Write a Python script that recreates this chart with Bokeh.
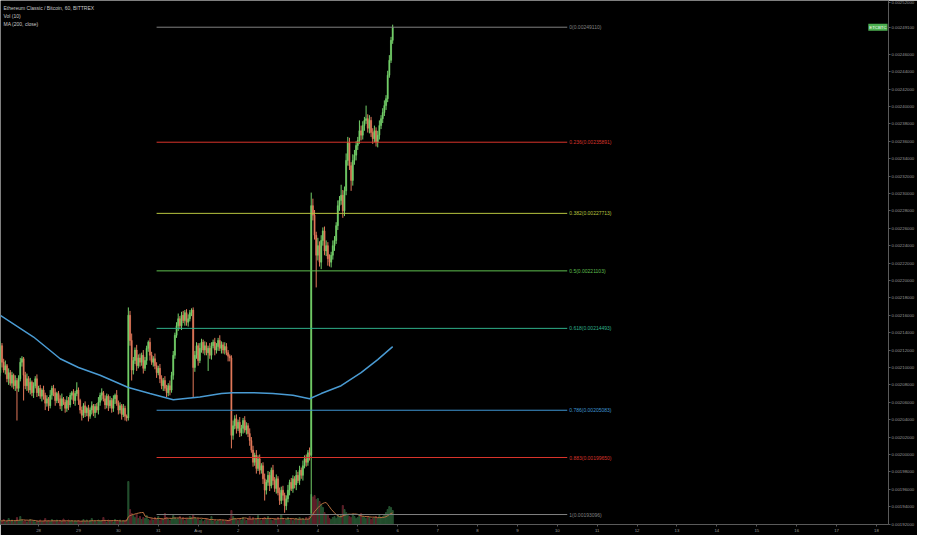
import numpy as np
import pandas as pd
from bokeh.plotting import figure
from bokeh.models import ColumnDataSource, Range1d, FixedTicker, PrintfTickFormatter, Label
from bokeh.embed import file_html
from bokeh.resources import INLINE

# ---------------- data (prices in millionths of BTC) ----------------
first_hour = -23          # first hourly candle, hours from 28 Jul 00:00
first_open_e6 = 2094

close_e6 = (
    [2125, 2106, 2097, 2102, 2087, 2094, 2082, 2091, 2079, 2085, 2076, 2087, 2106, 2110, 2091, 2079,
     2087, 2074, 2083, 2071, 2079, 2087, 2071]
    + [2076, 2067, 2074, 2068, 2059, 2064, 2056, 2068, 2076, 2071, 2062, 2070, 2064, 2056, 2064, 2060,
       2053, 2062, 2057, 2068, 2071, 2062, 2070, 2074]
    + [2062, 2051, 2045, 2056, 2048, 2053, 2044, 2051, 2056, 2048, 2055, 2051, 2060, 2068, 2071, 2064,
       2057, 2067, 2056, 2062, 2053, 2064, 2068, 2059, 2051, 2056, 2046, 2053, 2044, 2042]
    + [2160, 2131, 2097, 2108, 2120, 2102, 2111, 2106, 2114, 2099, 2108, 2122, 2129, 2114, 2106, 2110,
       2102, 2094, 2099, 2087, 2079, 2085, 2076, 2071, 2079, 2074, 2091, 2114, 2137, 2148, 2156, 2148,
       2160, 2154, 2163, 2152, 2156, 2163, 2166]
    + [2100, 2114, 2125, 2108, 2122, 2129, 2120, 2125, 2117, 2122, 2114, 2125, 2129, 2120, 2124, 2131,
       2122, 2126, 2120, 2124, 2117, 2113, 2111]
    + [2022, 2033, 2041, 2030, 2037, 2025, 2030, 2039, 2028, 2033, 2024, 2016, 2005, 1991, 1999, 1984,
       1995, 1982, 1987, 1972, 1959, 1968, 1976, 1964, 1982, 1970, 1961, 1972, 1956, 1947, 1959, 1953,
       1941, 1949, 1959, 1968, 1961, 1972, 1965, 1976, 1970, 1982, 1976, 1987, 1995, 1991, 2002, 1999]
    + [2286, 2275, 2252, 2229, 2240, 2221, 2246, 2257, 2234, 2240, 2225, 2221, 2229, 2240, 2246, 2263,
       2286, 2292, 2298, 2280, 2303, 2338, 2359, 2332, 2315, 2338, 2344, 2355, 2361, 2372, 2367, 2378,
       2384, 2386, 2375, 2384, 2370, 2363, 2372, 2359, 2367, 2378, 2386, 2393, 2401, 2409, 2436, 2453,
       2476, 2491]
)

wick_up_e6 = (
    [5, 3, 4, 6, 2, 5, 3, 4, 2, 6, 3, 4, 5, 3, 2, 4, 6, 3, 5, 2, 4, 3, 5]
    + [3, 4, 2, 5, 3, 4, 2, 6, 3, 4, 5, 2, 3, 4, 6, 2, 3, 5, 4, 3, 2, 4, 3, 9]
    + [3, 2, 4, 3, 5, 2, 4, 3, 5, 2, 3, 4, 6, 3, 5, 2, 4, 3, 2, 5, 3, 4, 2, 6, 3, 4, 2, 5, 3, 2]
    + [9, 5, 8, 4, 3, 6, 4, 5, 3, 6, 4, 3, 2, 5, 4, 3, 6, 4, 3, 5, 4, 3, 5, 4, 3, 6, 4, 5, 3, 4, 6, 3,
       4, 5, 3, 4, 5, 3, 2]
    + [3, 5, 4, 3, 6, 4, 3, 5, 4, 3, 6, 4, 3, 5, 4, 3, 6, 4, 3, 5, 4, 3, 2]
    + [3, 6, 4, 5, 3, 6, 4, 3, 5, 4, 3, 6, 4, 5, 3, 6, 4, 5, 3, 4, 6, 3, 5, 4, 3, 6, 4, 5, 3, 6, 4, 5,
       3, 4, 6, 3, 5, 4, 3, 6, 4, 5, 3, 6, 4, 5, 3, 6]
    + [15, 8, 6, 4, 9, 5, 6, 4, 5, 6, 4, 5, 4, 6, 5, 4, 6, 5, 12, 6, 5, 8, 6, 5, 4, 7, 6, 5, 4, 12, 6, 5,
       4, 15, 5, 6, 4, 5, 6, 4, 5, 6, 4, 5, 6, 4, 5, 6, 4, 3]
)

wick_dn_e6 = (
    [4, 6, 3, 5, 4, 7, 3, 5, 4, 6, 37, 4, 3, 5, 29, 4, 6, 3, 5, 4, 6, 3, 5]
    + [4, 3, 6, 5, 8, 4, 6, 3, 5, 4, 6, 3, 5, 4, 6, 3, 5, 4, 6, 3, 5, 4, 6, 3]
    + [5, 4, 6, 3, 5, 4, 6, 3, 5, 4, 6, 3, 5, 4, 6, 3, 5, 4, 6, 3, 5, 4, 6, 3, 5, 4, 6, 3, 5, 4]
    + [3, 6, 12, 5, 4, 6, 3, 5, 4, 6, 3, 5, 4, 6, 3, 5, 4, 6, 3, 5, 4, 6, 3, 5, 4, 6, 3, 5, 4, 3, 6, 4,
       5, 3, 6, 4, 5, 3, 4]
    + [34, 5, 4, 6, 3, 5, 4, 6, 3, 21, 4, 5, 3, 6, 4, 5, 3, 6, 4, 5, 3, 6, 4]
    + [15, 5, 4, 6, 3, 5, 4, 6, 3, 5, 4, 6, 3, 5, 4, 6, 3, 5, 4, 6, 12, 5, 4, 6, 3, 5, 4, 6, 3, 5, 4, 6,
       8, 5, 4, 6, 3, 5, 4, 6, 3, 5, 4, 6, 3, 5, 4, 6]
    + [67, 6, 5, 37, 6, 5, 8, 6, 5, 6, 8, 5, 6, 5, 6, 4, 5, 6, 5, 8, 6, 5, 6, 5, 12, 6, 5, 6, 5, 4, 6, 5,
       6, 4, 5, 6, 5, 6, 4, 5, 6, 5, 4, 5, 4, 5, 4, 3, 3, 4]
)

volume = (
    [8, 6, 10, 5, 7, 12, 6, 9, 5, 8, 14, 7, 16, 9, 6, 8, 5, 7, 10, 6, 8, 5, 7]
    + [6, 9, 5, 7, 12, 6, 8, 5, 10, 7, 6, 9, 5, 8, 6, 11, 7, 5, 9, 6, 8, 5, 7, 6]
    + [8, 5, 7, 10, 6, 9, 5, 8, 12, 6, 7, 5, 9, 6, 8, 14, 7, 5, 9, 6, 8, 5, 10, 7, 6, 9, 5, 8, 7, 10]
    + [86, 30, 22, 18, 14, 20, 12, 16, 10, 14, 12, 18, 10, 8, 12, 9, 14, 10, 16, 8, 12, 10, 22, 14, 10,
       8, 12, 18, 14, 10, 12, 16, 10, 14, 8, 12, 10, 16, 14]
    + [20, 14, 10, 12, 8, 10, 6, 9, 12, 8, 10, 16, 7, 9, 6, 8, 10, 7, 9, 6, 8, 7, 12]
    + [28, 16, 12, 10, 8, 12, 9, 14, 10, 8, 12, 16, 10, 14, 9, 12, 18, 10, 8, 12, 14, 10, 16, 12, 9, 8,
       12, 10, 14, 9, 20, 12, 8, 10, 14, 9, 12, 8, 10, 12, 9, 14, 10, 12, 8, 14, 10, 16]
    + [60, 55, 58, 50, 52, 46, 40, 34, 24, 20, 18, 12, 10, 14, 16, 12, 18, 14, 20, 38, 30, 24, 18, 16, 14,
       20, 16, 12, 14, 18, 22, 16, 14, 12, 16, 14, 10, 12, 14, 16, 12, 18, 14, 16, 20, 24, 30, 36, 34, 28]
)

ma_hours = [-23, -3, 13, 24, 37, 54, 67, 81, 97, 110, 117, 129, 141, 153, 163, 170, 182, 194, 204, 213]
ma_e6 = [2160, 2135, 2110, 2100, 2091, 2077, 2070, 2063, 2066, 2070, 2071, 2071, 2070, 2068, 2064,
         2070, 2079, 2094, 2109, 2124]

day_labels = ["28", "29", "30", "31", "Aug", "2", "3", "4", "5", "6", "7", "8", "9", "10", "11",
              "12", "13", "14", "15", "16", "17", "18"]

fib_levels = [0, 0.236, 0.382, 0.5, 0.618, 0.786, 0.883, 1]
fib_colors = ["#808080", "#d9342b", "#b7c43f", "#5fbf4f", "#2fb08a", "#3f95d2", "#d9342b", "#808080"]
fib_high = 0.00249110
fib_low = 0.00193096
fib_start_hour = 71
fib_end_hour = 318

legend_lines = ["Ethereum Classic / Bitcoin, 60, BITTREX", "Vol (10)", "MA (200, close)"]

UP, DOWN = "#74d06a", "#e2785a"
VUP, VDOWN = "#24502f", "#5e2029"

# ---------------- layout constants ----------------
FRAME_W, FRAME_H = 888, 524
PX_PER_HOUR = 1.6625
PX_PER_E6 = 0.87
X0 = -22.9
Y1 = 0.0025218

# ---------------- derived ----------------
n = len(close_e6)
hours = np.arange(first_hour, first_hour + n)
c = np.array(close_e6) * 1e-6
o = np.array([first_open_e6] + close_e6[:-1]) * 1e-6
top = np.maximum(o, c)
bot = np.minimum(o, c)
hi = top + np.array(wick_up_e6) * 1e-6
lo = bot - np.array(wick_dn_e6) * 1e-6
up = c >= o
vma = pd.Series(volume, dtype=float).rolling(10, min_periods=1).mean().values

src = ColumnDataSource(dict(h=hours, top=top, bot=bot, hi=hi, lo=lo,
                            color=np.where(up, UP, DOWN),
                            vol=volume, vcolor=np.where(up, VUP, VDOWN), vma=vma))

p = figure(frame_width=FRAME_W, frame_height=FRAME_H, output_backend="svg", toolbar_location=None,
           x_range=Range1d(X0, X0 + FRAME_W / PX_PER_HOUR),
           y_range=Range1d(Y1 - FRAME_H / PX_PER_E6 * 1e-6, Y1),
           y_axis_location="right",
           background_fill_color="#000000", border_fill_color="#000000",
           outline_line_color=None, min_border_left=0, min_border_top=0,
           min_border_right=0, min_border_bottom=0)
p.grid.visible = False

# volume
p.extra_y_ranges = {"vol": Range1d(0, FRAME_H * 2)}
p.vbar(x="h", width=0.65, top="vol", bottom=0, fill_color="vcolor", line_color="vcolor",
       y_range_name="vol", source=src)
p.line("h", "vma", y_range_name="vol", source=src, line_color="#b8703f", line_width=1)

# candles
p.segment(x0="h", y0="hi", x1="h", y1="lo", line_color="color", line_width=1, source=src)
p.vbar(x="h", width=0.7, top="top", bottom="bot", fill_color="color", line_color="color",
       line_width=0.5, source=src)

# MA 200
p.line(ma_hours, np.array(ma_e6) * 1e-6, line_color="#4a9bd3", line_width=1.5)

# fibonacci retracement
fib_prices = [fib_high - lv * (fib_high - fib_low) for lv in fib_levels]
fsrc = ColumnDataSource(dict(x0=[fib_start_hour] * len(fib_levels), x1=[fib_end_hour] * len(fib_levels),
                             y=fib_prices, color=fib_colors))
p.segment(x0="x0", y0="y", x1="x1", y1="y", line_color="color", line_width=1, source=fsrc)
for lv, pr, col in zip(fib_levels, fib_prices, fib_colors):
    p.add_layout(Label(x=fib_end_hour, y=pr, text=f"{lv:g}({pr:.8f})", text_color=col,
                       text_font_size="5px", text_font="Liberation Sans",
                       text_baseline="alphabetic", x_offset=2))

# legend text (top left)
for i, t in enumerate(legend_lines):
    p.add_layout(Label(x=3, y=FRAME_H - 4 - 8 * i, x_units="screen", y_units="screen", text=t,
                       text_color="#c8c8c8", text_font_size="5px", text_font="Liberation Sans",
                       text_baseline="top"))

# axes
last = c[-1]
price_ticks = [round(0.0019 + 0.00002 * i, 8) for i in range(32)]
price_ticks = [t for t in price_ticks if abs(t - last) > 0.000012] + [last]
p.yaxis.ticker = FixedTicker(ticks=price_ticks)
p.yaxis.formatter = PrintfTickFormatter(format="%.8f")
p.xaxis.ticker = FixedTicker(ticks=[24 * i for i in range(len(day_labels))])
p.xaxis.major_label_overrides = {24 * i: t for i, t in enumerate(day_labels)}
for ax in (p.xaxis[0], p.yaxis[0]):
    ax.axis_line_color = "#5a5a5a"
    ax.major_tick_line_color = "#5a5a5a"
    ax.minor_tick_line_color = None
    ax.major_tick_in = 0
    ax.major_tick_out = 2
    ax.major_label_text_color = "#9a9a9a"
    ax.major_label_text_font_size = "4.3px"
    ax.major_label_text_font = "Liberation Sans"
    ax.major_label_standoff = 1

# last price tag inside the chart
p.add_layout(Label(x=X0 + FRAME_W / PX_PER_HOUR, y=last, text="ETCBTC", text_color="#ffffff",
                   text_font_size="4.3px", text_font="Liberation Sans", text_baseline="middle",
                   text_align="right", x_offset=-1, background_fill_color="#4caf50", padding=1))

open("out.html", "w").write(file_html(p, INLINE))
